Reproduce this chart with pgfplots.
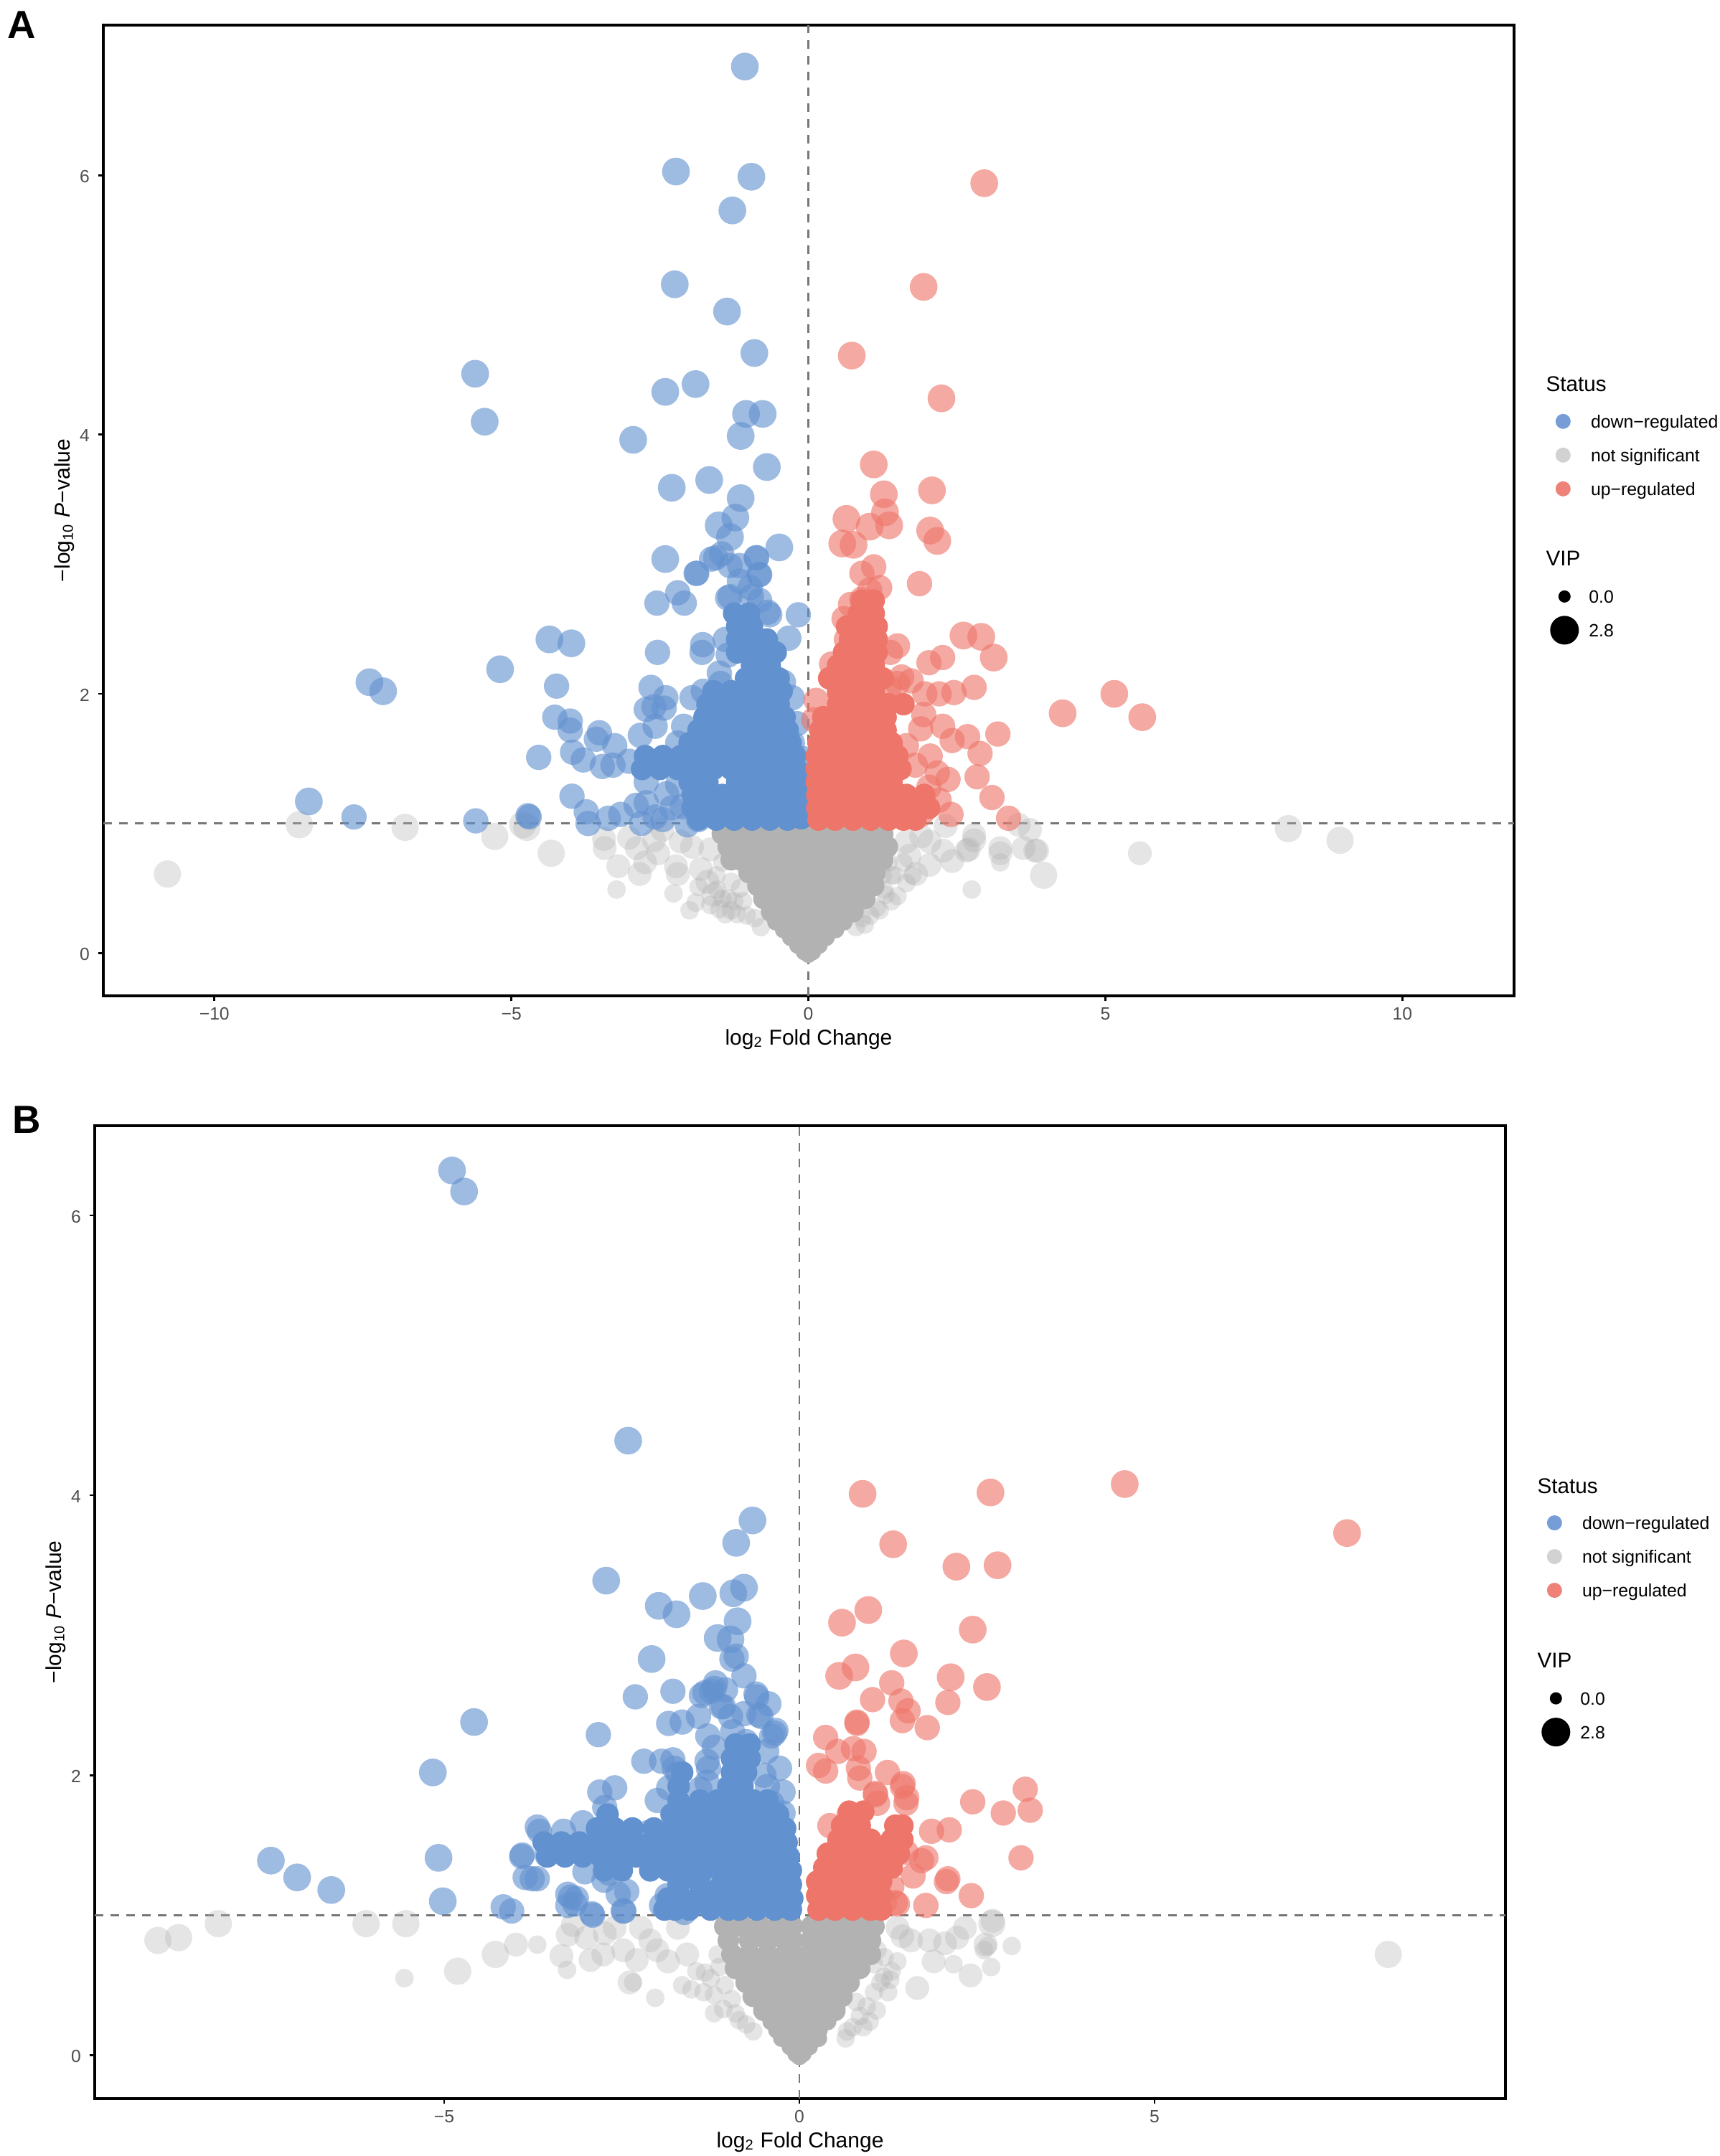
\documentclass[border=0pt]{standalone}
\usepackage{fontspec}
\usepackage{pgfplots}
\pgfplotsset{compat=1.18}
\setmainfont{Liberation Sans}

\definecolor{cblue}{HTML}{6291CF}
\definecolor{cred}{HTML}{EE7569}
\definecolor{cgrey}{HTML}{B2B2B2}
\definecolor{lgblue}{HTML}{769DD6}
\definecolor{lggrey}{HTML}{D2D2D2}
\definecolor{lgred}{HTML}{EE8279}
\definecolor{ticktxt}{HTML}{4D4D4D}
\definecolor{dashc}{HTML}{777777}

\newcommand\tickfont{\fontsize{7.4}{9}\selectfont}
\newcommand\labfont{\fontsize{9}{10}\selectfont}
\newcommand\legfont{\fontsize{7.45}{9}\selectfont}
\newcommand\legtitle{\fontsize{8.9}{10}\selectfont}

\pgfplotsset{
  pts/.style n args={3}{only marks, mark=*, mark size=#2, forget plot,
    mark options={draw opacity=0, line width=0pt, fill=#1, fill opacity=#3}},
  dash/.style={dashc, line width=0.75pt, dash pattern=on 3.6pt off 3pt, forget plot},
  panel/.style={
    scale only axis, width=589.8pt,
    tick align=outside, xtick pos=bottom, ytick pos=left,
    major tick length=2.2pt,
    tick style={black, line width=0.8pt},
    axis line style={line width=1.2pt},
    ticklabel style={font=\tickfont, text=ticktxt},
    xticklabel style={yshift=0.8pt},
    yticklabel style={yshift=-0.5pt},
    ytick={0,2,4,6}, yticklabels={0,2,4,6},
    xlabel={log\textsubscript{2} Fold Change},
    ylabel={−log\textsubscript{10} \textit{P}−value},
    label style={font=\labfont},
  },
  keyleg/.style={
    legend cell align=left,
    legend style={draw=none, fill=none, inner sep=0pt, font=\legfont,
      row sep=6.9pt, column sep=4.4pt,
      nodes={inner sep=0pt, text height=5.6pt, text depth=1.6pt}},
    legend image code/.code={
      \path (0pt,-1pt) (14pt,1pt);
      \fill[overlay, draw=none, ##1] (7pt,0.7pt) circle;
    },
  },
}

\begin{document}
\begin{tikzpicture}
\useasboundingbox (0,0) rectangle (719.1pt,901.5pt);

\node[anchor=base west, inner sep=0pt, font=\fontsize{16.4}{18}\selectfont\bfseries] at (3pt,885.3pt) {A};
\node[anchor=base west, inner sep=0pt, font=\fontsize{16.4}{18}\selectfont\bfseries] at (5pt,427.5pt) {B};

% panel A
\begin{axis}[panel, keyleg, at={(43.2pt,485.1pt)}, anchor=south west, height=405.9pt,
  xmin=-11.87, xmax=11.88, ymin=-0.33, ymax=7.16,
  xtick={-10,-5,0,5,10}, xticklabels={−10,−5,0,5,10},
  xlabel style={at={(axis description cs:0.5,-0.0503)}, anchor=base},
  ylabel style={at={(axis description cs:-0.0234,0.5)}, anchor=base},
  legend style={at={(1.0222,0.5994)}, anchor=north west},
]
\addlegendimage{fill=lgblue, radius=3.15pt}\addlegendentry{down−regulated}
\addlegendimage{fill=lggrey, radius=3.15pt}\addlegendentry{not significant}
\addlegendimage{fill=lgred, radius=3.15pt}\addlegendentry{up−regulated}

\addplot[dash] coordinates {(0,-0.33)(0,7.16)};
\addplot[dash] coordinates {(-11.87,1)(11.88,1)};

% not significant
\addplot[pts={cgrey}{5.7pt}{0.34}] coordinates {
(-10.79,.61)(-8.57,.99)(-6.79,.97)(-5.28,.9)(-4.81,.99)(-4.74,.97)(-4.33,.77)(8.08,.96)(8.95,.87)(3.96,.6)
};
\addplot[pts={cgrey}{5pt}{0.34}] coordinates {
(-3.44,.88)(-3.43,.81)(-3.02,.89)(-2.89,.81)(-3.2,.67)(-2.84,.61)(-2.53,.77)(-2.23,.67)(-1.96,.82)(-2.2,.61)(-1.81,.65)(-2.46,.95)(-2.15,.86)
(3.82,.79)(3.85,.79)(3.62,.81)(3.73,.95)(3.54,.99)(3.23,.81)(2.79,.91)(2.66,.79)(2.31,.98)(2.42,.71)(2.04,.86)(2.04,.68)(1.81,.61)(2.27,.79)(2.79,.87)(3.23,.77)(2.7,.8)(1.7,.75)(1.9,.9)(1.65,.86)
(-2.75,.7)(-2.6,.87)(-1.65,.8)(-1.7,.55)(-1.6,.45)(5.58,.77)
};
\addplot[pts={cgrey}{3.9pt}{0.34}] coordinates {
(-3.23,.49)(-2.27,.46)(-1.85,.51)(-2,.33)(-1.9,.39)(-1.54,.49)(-1.5,.34)(-1.04,.29)(-1.2,.3)(-1.65,.37)(-1.35,.42)(1.65,.54)(1.5,.44)(1.27,.49)(1.04,.29)(1.2,.33)(.95,.22)(3.23,.7)(1.4,.6)(2.75,.49)
(-1.55,.6)(-1.45,.7)(-1.3,.55)(-1.25,.4)(-1.4,.3)(-1.1,.4)(-1.45,.42)(-1.15,.5)(-1.3,.33)(-.9,.27)(-.8,.2)(1.35,.7)(1.45,.6)(1.3,.45)(1.15,.35)(1.6,.7)(1.75,.6)(1.4,.4)(1.25,.6)(.9,.27)(.8,.2)
};
\addplot[pts={cgrey}{4.5pt}{1}] coordinates {
(-1.45,.92)(-1.15,.92)(-.85,.92)(-.55,.92)(-.25,.92)(.05,.92)(.35,.92)(.65,.92)(.95,.92)(1.25,.92)
(-1.35,.82)(-1,.82)(-.7,.82)(-.4,.82)(-.1,.82)(.2,.82)(.5,.82)(.8,.82)(1.1,.82)(1.33,.82)
(-1.3,.72)(-1.15,.72)(-.85,.72)(-.55,.72)(-.25,.72)(.05,.72)(.35,.72)(.65,.72)(.95,.72)(1.25,.72)
(-1,.62)(-.7,.62)(-.4,.62)(-.1,.62)(.2,.62)(.5,.62)(.8,.62)(1.12,.62)
(-.85,.52)(-.55,.52)(-.25,.52)(.05,.52)(.35,.52)(.65,.52)(.95,.52)(1.1,.52)
(-.75,.42)(-.4,.42)(-.1,.42)(.2,.42)(.5,.42)(.8,.42)(.95,.42)
(-.62,.32)(-.3,.32)(0,.32)(.3,.32)(.6,.32)(.75,.32)
};
\addplot[pts={cgrey}{3.6pt}{1}] coordinates {
(-.55,.24)(-.3,.24)(-.05,.24)(.2,.24)(.45,.24)(.6,.24)
(-.42,.18)(-.18,.18)(.06,.18)(.3,.18)(.46,.18)
(-.3,.12)(-.1,.12)(.1,.12)(.3,.12)
(-.18,.06)(0,.06)(.18,.06)
(-.07,.01)(.07,.01)(0,-.01)
};

% down-regulated
\addplot[pts={cblue}{5.8pt}{0.62}] coordinates {
(-1.07,6.84)(-2.23,6.03)(-.96,5.99)(-1.28,5.73)(-2.25,5.16)(-1.37,4.95)(-.91,4.63)(-5.61,4.47)(-5.45,4.1)(-1.9,4.39)(-2.41,4.33)(-2.95,3.96)
(-1.05,4.16)(-.77,4.16)(-1.14,3.99)(-.7,3.75)(-1.67,3.65)(-2.3,3.59)(-1.14,3.51)(-1.23,3.36)(-1.51,3.3)(-1.32,3.21)(-.49,3.13)(-2.41,3.04)
(-8.41,1.17)(-7.39,2.09)(-7.16,2.02)(-5.19,2.19)(-4.36,2.42)(-3.99,2.39)
};
\addplot[pts={cblue}{5.3pt}{0.62}] coordinates {
(-1.46,3.08)(-1.63,3.04)(-.88,3.05)(-1.32,2.99)(-1.88,2.93)(-1.16,2.99)(-.82,2.92)(-1.16,2.87)(-.98,2.82)(-1.32,2.75)(-.82,2.72)(-.68,2.63)(-.17,2.61)
(-2.2,2.78)(-2.55,2.7)(-2.09,2.7)(-4.24,2.06)(-4.27,1.82)(-4.01,1.79)(-4.01,1.72)(-4.54,1.51)(-3.97,1.55)(-3.79,1.49)(-3.52,1.7)(-3.57,1.65)(-3.26,1.6)(-3.47,1.44)(-3.29,1.45)(-3.02,1.48)
(-7.65,1.05)(-5.6,1.02)(-4.7,1.05)(-4.72,1.06)(-3.98,1.21)(-3.74,1.09)(-3.71,1)(-3.37,1.04)(-3.16,1.07)(-2.9,1.14)(-2.73,1.16)(-2.58,1.05)(-2.81,1)(-2.39,1.23)(-2.04,.99)(-2.12,1.13)(-2.73,1.32)(-2.83,1.68)
(-2.65,2.05)(-2.58,1.75)(-2.73,1.88)(-2.6,1.9)(-2.4,1.97)(-2.43,1.89)(-2.54,2.32)(-1.89,2.93)(-1.78,2.38)(-1.79,2.32)(-1.96,1.97)(-1.77,2.02)(-1.5,2.16)(-1.48,2.08)(-.42,2.09)(-.27,1.97)(-.19,1.77)(-.27,1.62)(-.33,2.43)(-.65,2.61)(-1.36,2.74)(-.96,2.75)(-1.56,3.05)(-.87,3.05)(-.83,2.92)
(-2.3,1.12)(-2.2,1.3)(-2.45,1.03)(-1.85,1.03)(-.16,1.32)(-.09,1.5)(-2.1,1.75)(-2.2,1.62)(-1.35,2.3)(-1.4,2.42)
};
\addplot[pts={cblue}{4.7pt}{1}] coordinates {
(-1.85,1.03)(-1.55,1.03)(-1.25,1.03)(-.95,1.03)(-.65,1.03)(-.35,1.03)(-.12,1.04)
(-1.95,1.12)(-1.7,1.12)(-1.4,1.12)(-1.1,1.12)(-.8,1.12)(-.5,1.12)(-.2,1.12)(-.1,1.12)
(-1.95,1.22)(-1.75,1.22)(-1.45,1.22)(-1.15,1.22)(-.85,1.22)(-.55,1.22)(-.25,1.22)(-.12,1.22)
(-2,1.32)(-1.7,1.32)(-1.2,1.32)(-.9,1.32)(-.6,1.32)(-.3,1.32)(-.15,1.32)
(-2.8,1.42)(-2.5,1.42)(-2.2,1.42)(-1.9,1.42)(-1.6,1.42)(-1.3,1.42)(-1,1.42)(-.7,1.42)(-.4,1.42)(-.2,1.42)
(-2.75,1.52)(-2.45,1.52)(-2.15,1.52)(-1.85,1.52)(-1.55,1.52)(-1.25,1.52)(-.95,1.52)(-.65,1.52)(-.35,1.52)(-.22,1.52)
(-2,1.62)(-1.7,1.62)(-1.4,1.62)(-1.1,1.62)(-.8,1.62)(-.5,1.62)(-.3,1.62)
(-1.85,1.72)(-1.55,1.72)(-1.25,1.72)(-.95,1.72)(-.65,1.72)(-.35,1.72)
(-1.75,1.82)(-1.45,1.82)(-1.15,1.82)(-.85,1.82)(-.55,1.82)(-.4,1.82)
(-1.7,1.92)(-1.4,1.92)(-1.1,1.92)(-.8,1.92)(-.5,1.92)
(-1.6,2.02)(-1.3,2.02)(-.95,2.02)(-.65,2.02)(-.45,2.02)
(-1.05,2.12)(-.75,2.12)(-.5,2.12)
(-.95,2.22)(-.65,2.22)
(-1.2,2.32)(-1,2.32)(-.8,2.32)(-.55,2.32)
(-1.2,2.42)(-.9,2.42)(-.7,2.42)
(-1.2,2.52)(-.95,2.52)
(-1.25,2.62)(-1,2.62)
};

% up-regulated
\addplot[pts={cred}{5.8pt}{0.62}] coordinates {
(2.96,5.94)(1.94,5.14)(.73,4.61)(2.24,4.28)(1.1,3.77)(2.08,3.57)(1.27,3.54)(1.29,3.4)(.64,3.35)(1.36,3.3)(1.03,3.29)(2.05,3.26)(2.17,3.18)(.57,3.16)(.76,3.15)
(2.91,2.44)(2.61,2.45)(3.12,2.28)(4.28,1.85)(5.15,2)(5.62,1.82)
};
\addplot[pts={cred}{5.3pt}{0.62}] coordinates {
(1.1,2.98)(.9,2.93)(1.87,2.85)(1.2,2.82)(1.03,2.8)(.9,2.73)(2.26,2.28)(2.03,2.24)(1.5,2.37)(1.38,2.32)(2.79,2.05)(2.45,2.01)(2.2,2)(1.96,2)(1.73,2.1)(1.57,2.13)(1.5,2.08)(1.36,2.05)
(1.94,1.84)(1.89,1.73)(2.26,1.75)(3.19,1.69)(2.68,1.67)(2.42,1.64)(2.89,1.54)(2.05,1.52)(2.17,1.39)(2.84,1.36)(2.35,1.34)(2.03,1.28)(3.09,1.2)(2.4,1.07)(3.37,1.04)(2.2,1.18)(1.9,1.07)
(.13,1.95)(.09,1.8)(.53,2)(.39,2.23)(.64,2.42)(.6,2.58)(.71,2.69)(1.65,1.6)(1.8,1.45)
};
\addplot[pts={cred}{4.7pt}{1}] coordinates {
(.17,1.03)(.45,1.03)(.75,1.03)(1.05,1.03)(1.35,1.03)(1.6,1.03)(1.8,1.03)
(.15,1.12)(.3,1.12)(.6,1.12)(.9,1.12)(1.2,1.12)(1.5,1.12)(1.8,1.12)(2.03,1.12)
(.15,1.22)(.45,1.22)(.75,1.22)(1.05,1.22)(1.35,1.22)(1.65,1.22)(1.95,1.22)
(.14,1.32)(.3,1.32)(.6,1.32)(.9,1.32)(1.2,1.32)(1.4,1.32)
(.14,1.42)(.45,1.42)(.75,1.42)(1.05,1.42)(1.35,1.42)(1.55,1.42)
(.14,1.52)(.3,1.52)(.6,1.52)(.9,1.52)(1.2,1.52)(1.5,1.52)
(.17,1.62)(.45,1.62)(.75,1.62)(1.05,1.62)(1.4,1.62)
(.2,1.72)(.5,1.72)(.8,1.72)(1.1,1.72)(1.3,1.72)
(.25,1.82)(.55,1.82)(.85,1.82)(1.15,1.82)(1.3,1.82)
(.5,1.92)(.8,1.92)(1.1,1.92)(1.35,1.92)(1.6,1.92)
(.5,2.02)(.8,2.02)(1.1,2.02)
(.35,2.12)(.65,2.12)(.95,2.12)(1.25,2.12)
(.5,2.22)(.8,2.22)(1.1,2.22)
(.6,2.32)(.85,2.32)(1.15,2.32)
(.7,2.42)(.95,2.42)(1.15,2.42)
(.65,2.52)(.9,2.52)(1.15,2.52)
(.85,2.62)(1.1,2.62)
(.9,2.72)(1.1,2.72)
};
\end{axis}

% size key A
\begin{axis}[hide axis, keyleg, scale only axis, width=589.8pt, height=405.9pt,
  at={(43.2pt,485.1pt)}, anchor=south west, xmin=0, xmax=1, ymin=0, ymax=1,
  legend style={at={(1.0232,0.419)}, anchor=north west, column sep=3pt}]
\addlegendimage{fill=black, radius=2.55pt}\addlegendentry{0.0}
\addlegendimage{fill=black, radius=6pt}\addlegendentry{2.8}
\end{axis}
\node[anchor=base west, inner sep=0pt, font=\legtitle] at (646.2pt,737.7pt) {Status};
\node[anchor=base west, inner sep=0pt, font=\legtitle] at (646.2pt,664.8pt) {VIP};

% panel B
\begin{axis}[panel, keyleg, at={(39.6pt,24pt)}, anchor=south west, height=406.8pt,
  xmin=-9.92, xmax=9.94, ymin=-0.31, ymax=6.64,
  xtick={-5,0,5}, xticklabels={−5,0,5},
  xlabel style={at={(axis description cs:0.5,-0.0503)}, anchor=base},
  ylabel style={at={(axis description cs:-0.0234,0.5)}, anchor=base},
  legend style={at={(1.0222,0.5994)}, anchor=north west},
]
\addlegendimage{fill=lgblue, radius=3.15pt}\addlegendentry{down−regulated}
\addlegendimage{fill=lggrey, radius=3.15pt}\addlegendentry{not significant}
\addlegendimage{fill=lgred, radius=3.15pt}\addlegendentry{up−regulated}

\addplot[dash] coordinates {(0,-0.31)(0,6.64)};
\addplot[dash] coordinates {(-9.92,1)(9.94,1)};

% not significant
\addplot[pts={cgrey}{5.7pt}{0.34}] coordinates {
(-9.03,.82)(-8.74,.84)(-8.18,.94)(-6.1,.94)(-5.54,.94)(-4.28,.72)(-4.81,.6)(8.29,.72)(2.71,.94)
};
\addplot[pts={cgrey}{5pt}{0.34}] coordinates {
(-3.99,.79)(-3.35,.71)(-3.26,.86)(-3.19,.93)(-3,.84)(-2.94,.68)(-2.76,.72)(-2.74,.87)(-2.6,.91)(-2.48,.75)(-2.39,.52)(-2.29,.68)(-2.23,.91)(-2.1,.82)(-2,.75)(-1.71,.91)(-1.58,.72)(-1.85,.67)
(2.33,.91)(2.72,.96)(2.22,.84)(2.62,.79)(2.41,.57)(1.89,.67)(1.83,.82)(1.57,.82)(1.38,.91)(2.05,.8)(1.66,.48)(1.45,.85)
};
\addplot[pts={cgrey}{3.9pt}{0.34}] coordinates {
(-5.56,.55)(-3.69,.79)(-3.27,.61)(-2.03,.41)(-2.34,.52)(-1.52,.47)(-1.65,.5)(-1.33,.59)(-1.13,.63)(-1.07,.33)(-1.2,.43)(-1.35,.45)(-1.2,.3)
(2.99,.78)(2.7,.63)(2.6,.75)(2.17,.65)(1.38,.67)(1.28,.54)(1.25,.45)(1.19,.56)(1.09,.32)(.8,.38)(.99,.24)(.67,.17)(1.14,.52)(1.3,.6)(2.65,.78)
(-1.15,.72)(-1.25,.55)(-1.05,.5)(-.95,.4)(-.9,.3)(-.85,.25)(-.75,.22)(-1.45,.6)(-.65,.17)(1.1,.75)(1.05,.65)(1.05,.45)(.95,.35)(.85,.28)(.75,.2)(.9,.2)(.65,.12)(1.2,.7)
};
\addplot[pts={cgrey}{4.5pt}{1}] coordinates {
(-1.05,.92)(-.8,.92)(-.55,.92)(-.3,.92)(-.1,.92)(.17,.92)(.38,.92)(.63,.92)(.88,.92)(1.05,.92)
(-1,.82)(-.7,.82)(-.45,.82)(-.2,.82)(-.1,.82)(.16,.82)(.25,.82)(.5,.82)(.75,.82)(1,.82)
(-.95,.72)(-.7,.72)(-.45,.72)(-.2,.72)(-.08,.72)(.15,.72)(.38,.72)(.63,.72)(.88,.72)(1,.72)
(-.9,.62)(-.65,.62)(-.4,.62)(-.15,.62)(.1,.62)(.35,.62)(.6,.62)(.85,.62)
(-.75,.52)(-.5,.52)(-.25,.52)(0,.52)(.25,.52)(.5,.52)(.7,.52)
(-.65,.42)(-.4,.42)(-.15,.42)(.1,.42)(.35,.42)(.6,.42)
(-.5,.32)(-.25,.32)(0,.32)(.25,.32)(.5,.32)
};
\addplot[pts={cgrey}{3.6pt}{1}] coordinates {
(-.4,.24)(-.2,.24)(0,.24)(.2,.24)(.4,.24)
(-.32,.18)(-.12,.18)(.08,.18)(.28,.18)
(-.25,.12)(-.05,.12)(.15,.12)(.27,.12)
(-.13,.06)(.02,.06)(.14,.06)
(-.05,.01)(.05,.01)(0,-.01)
};

% down-regulated
\addplot[pts={cblue}{5.8pt}{0.62}] coordinates {
(-4.89,6.32)(-4.72,6.17)(-2.41,4.39)(-.66,3.82)(-.89,3.66)(-2.72,3.39)(-.78,3.34)(-.93,3.3)(-1.36,3.28)(-1.98,3.21)(-1.73,3.15)(-.87,3.1)(-1.15,2.98)(-.97,2.97)(-2.08,2.83)
(-4.58,2.38)(-5.16,2.02)(-7.44,1.39)(-7.07,1.27)(-6.59,1.18)(-5.08,1.41)(-5.02,1.1)
};
\addplot[pts={cblue}{5.3pt}{0.62}] coordinates {
(-.89,2.85)(-.95,2.83)(-.78,2.71)(-1.18,2.66)(-1.24,2.6)(-1.38,2.57)(-1.78,2.6)(-2.31,2.56)(-.6,2.56)(-.43,2.51)(-1.1,2.49)(-.97,2.42)(-.54,2.42)(-1.65,2.38)(-1.84,2.37)(-2.83,2.29)(-.35,2.3)
(-2.19,2.1)(-1.94,2.1)(-1.76,2.05)(-2.81,1.88)(-2.6,1.91)(-1.28,2.05)(-1.71,2.01)(-.28,2.05)(-.23,1.88)(-2.74,1.77)(-2,1.82)(-1.84,1.91)(-.39,1.8)(-.23,1.73)(-1.33,2.59)(-1.2,2.62)(-1.04,2.61)(-.61,2.58)(-1.07,2.49)(-1.42,2.42)(-.78,2.44)(-.57,2.43)(-.33,2.32)(-1.29,2.28)(-.94,2.31)(-.39,2.28)(-.46,2.17)(-.75,2.24)(-1.78,2.11)
(-3.91,1.42)(-3.66,1.6)(-3.76,1.26)(-4.17,1.06)(-4.05,1.03)(-3.22,1.13)(-3.16,1.08)(-2.91,1)(-2.48,1.03)(-3.9,1.43)(-3.69,1.63)(-3.86,1.27)(-3.69,1.26)(-3.32,1.6)(-3.05,1.66)(-3.02,1.31)(-2.68,1.3)(-3.26,1.15)(-3.14,1.12)(-3.26,1.07)(-2.92,1.01)(-2.47,1.03)(-2.43,1.17)(-1.94,1.07)(-1.86,1.14)(-1.68,1.25)(-1.62,1.02)(-2.13,1.59)(-2.05,1.35)(-3.55,1.43)(-2.55,1.15)(-2.75,1.25)
(-1.4,1.9)(-1.3,1.95)(-1.2,2.2)(-1.3,2.1)(-.5,2)(-.45,1.92)
};
\addplot[pts={cblue}{4.7pt}{1}] coordinates {
(-1.9,1.04)(-1.75,1.04)(-1.55,1.04)(-1.25,1.04)(-1,1.04)(-.85,1.04)(-.6,1.04)(-.35,1.04)(-.12,1.04)
(-1.85,1.12)(-1.65,1.12)(-1.45,1.12)(-1.2,1.12)(-.95,1.12)(-.7,1.12)(-.45,1.12)(-.2,1.12)(-.1,1.12)
(-1.7,1.22)(-1.4,1.22)(-1.1,1.22)(-.85,1.22)(-.6,1.22)(-.35,1.22)(-.12,1.22)
(-2.75,1.32)(-2.5,1.32)(-2.1,1.32)(-1.85,1.32)(-1.6,1.32)(-1.35,1.32)(-1.1,1.32)(-.85,1.32)(-.6,1.32)(-.35,1.32)(-.12,1.32)
(-3.55,1.42)(-3.3,1.42)(-3.05,1.42)(-2.8,1.42)(-2.55,1.42)(-2.3,1.42)(-2.05,1.42)(-1.8,1.42)(-1.55,1.42)(-1.3,1.42)(-1.05,1.42)(-.8,1.42)(-.55,1.42)(-.3,1.42)(-.15,1.42)
(-3.6,1.52)(-3.35,1.52)(-3.1,1.52)(-2.85,1.52)(-2.6,1.52)(-2.35,1.52)(-2.1,1.52)(-1.85,1.52)(-1.6,1.52)(-1.35,1.52)(-1.1,1.52)(-.85,1.52)(-.6,1.52)(-.35,1.52)(-.18,1.52)
(-2.85,1.62)(-2.6,1.62)(-2.35,1.62)(-2.05,1.62)(-1.8,1.62)(-1.55,1.62)(-1.3,1.62)(-1.05,1.62)(-.8,1.62)(-.55,1.62)(-.3,1.62)(-.2,1.62)
(-2.7,1.72)(-1.8,1.72)(-1.55,1.72)(-1.3,1.72)(-1.05,1.72)(-.8,1.72)(-.55,1.72)(-.3,1.72)
(-1.7,1.82)(-1.4,1.82)(-1.15,1.82)(-.9,1.82)(-.65,1.82)(-.45,1.82)
(-1.7,1.92)(-1,1.92)(-.8,1.92)
(-1.65,2.02)(-.95,2.02)(-.75,2.02)
(-.95,2.12)(-.7,2.12)
(-.9,2.22)(-.7,2.22)
};

% up-regulated
\addplot[pts={cred}{5.8pt}{0.62}] coordinates {
(4.58,4.08)(7.71,3.73)(2.69,4.02)(.89,4.01)(1.32,3.65)(2.21,3.49)(2.79,3.5)(.97,3.18)(.6,3.09)(2.44,3.04)(1.47,2.87)(.79,2.77)(.56,2.71)(2.13,2.7)(2.64,2.63)
};
\addplot[pts={cred}{5.3pt}{0.62}] coordinates {
(1.3,2.66)(1.03,2.54)(1.43,2.53)(2.09,2.52)(1.53,2.46)(1.45,2.39)(1.8,2.34)(.81,2.37)(.81,2.38)(.37,2.27)(.54,2.17)(.76,2.19)(.91,2.17)(.27,2.07)(.37,2.03)(.83,2.05)(.85,1.98)(1.24,2.02)(1.45,1.92)(1.07,1.86)(3.18,1.9)(2.44,1.81)(1.5,1.8)(1.1,1.8)(2.11,1.61)(1.86,1.6)(2.87,1.73)(3.25,1.75)(3.12,1.41)(2.07,1.24)(2.42,1.14)(1.78,1.07)(1.72,1.39)(1.6,1.28)(1.38,1.08)(2.09,1.26)(1.78,1.41)(1.35,1.09)(1.51,1.84)(1.46,1.94)(1.07,1.87)(.7,1.72)(.43,1.64)(1.3,1.2)(1.5,1.45)(1.2,1.1)
};
\addplot[pts={cred}{4.7pt}{1}] coordinates {
(.27,1.04)(.5,1.04)(.75,1.04)(1,1.04)(1.15,1.04)
(.25,1.14)(.5,1.14)(.75,1.14)(1,1.14)(1.15,1.14)
(.25,1.24)(.45,1.24)(.7,1.24)(.95,1.24)(1.15,1.24)
(.35,1.34)(.6,1.34)(.85,1.34)(1.1,1.34)(1.3,1.34)
(.4,1.44)(.65,1.44)(.9,1.44)(1.15,1.44)(1.4,1.44)
(.55,1.54)(.75,1.54)(1,1.54)(1.3,1.54)(1.45,1.54)
(.6,1.64)(.85,1.64)(1.35,1.64)(1.45,1.64)
(.7,1.74)(.9,1.74)
};
\end{axis}

% size key B
\begin{axis}[hide axis, keyleg, scale only axis, width=589.8pt, height=406.8pt,
  at={(39.6pt,24pt)}, anchor=south west, xmin=0, xmax=1, ymin=0, ymax=1,
  legend style={at={(1.0232,0.419)}, anchor=north west, column sep=3pt}]
\addlegendimage{fill=black, radius=2.55pt}\addlegendentry{0.0}
\addlegendimage{fill=black, radius=6pt}\addlegendentry{2.8}
\end{axis}
\node[anchor=base west, inner sep=0pt, font=\legtitle] at (642.6pt,276.9pt) {Status};
\node[anchor=base west, inner sep=0pt, font=\legtitle] at (642.6pt,204pt) {VIP};
\end{tikzpicture}
\end{document}
